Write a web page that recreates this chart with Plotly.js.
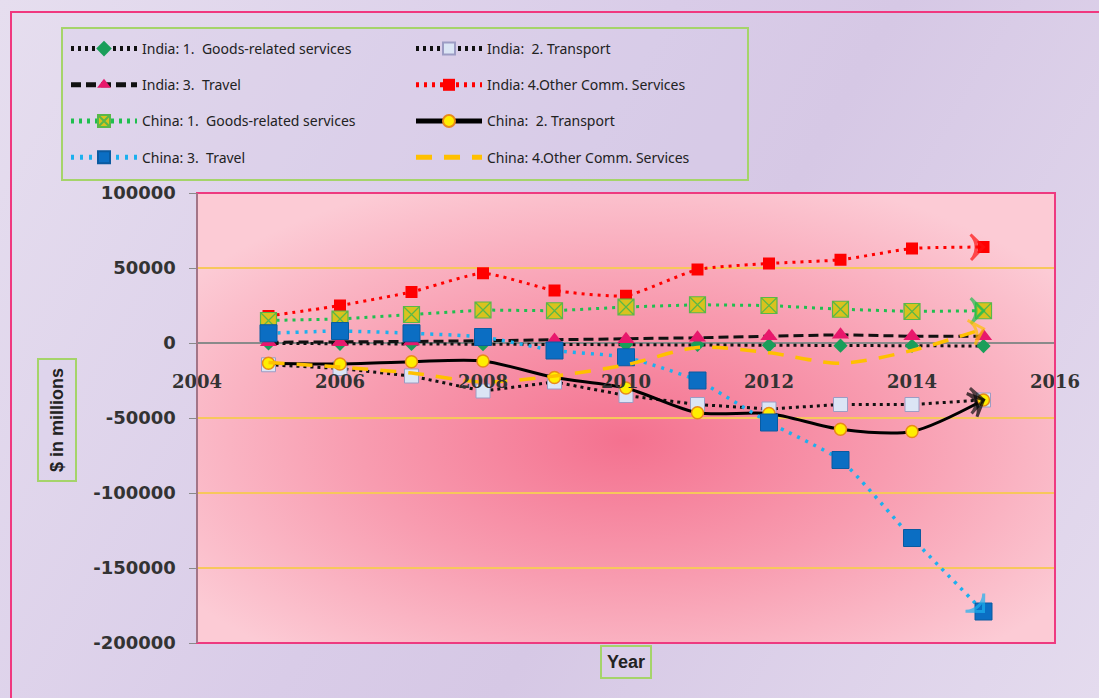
<!DOCTYPE html>
<html>
<head>
<meta charset="utf-8">
<script src="https://cdn.plot.ly/plotly-3.0.1.min.js"></script>
<style>
html,body{margin:0;padding:0;}
body{width:1099px;height:698px;background:linear-gradient(120deg,#e6deef 0%,#d9cce8 45%,#d6c8e5 60%,#e4dbee 100%);overflow:hidden;}
#chart{width:1099px;height:698px;}
</style>
</head>
<body>
<div id="chart"></div>
<script>
// ---- data ----
const years = [2005, 2006, 2007, 2008, 2009, 2010, 2011, 2012, 2013, 2014, 2015];
const indiaGoods     = [-300, -500, -600, -800, -900, -1000, -1200, -1500, -1800, -1900, -2000];
const indiaTransport = [-14500, -17000, -22000, -32000, -26000, -35000, -41000, -44000, -41000, -41000, -38000];
const indiaTravel    = [500, 500, 1000, 1500, 2000, 2500, 3500, 4500, 5500, 4500, 4500];
const indiaOther     = [18000, 25000, 34000, 46500, 35000, 31500, 49000, 53000, 55500, 63000, 64000];
const chinaGoods     = [15000, 16000, 19000, 22000, 21500, 24000, 25500, 25000, 22500, 21000, 21500];
const chinaTransport = [-13500, -14000, -12500, -12000, -23000, -30000, -46500, -47000, -57500, -59000, -38000];
const chinaTravel    = [6500, 8000, 6500, 4000, -5000, -9500, -25000, -53000, -78000, -130000, -179000];
const chinaOther     = [-13000, -16000, -20000, -26000, -22000, -14500, -3000, -6500, -13500, -5000, 9500];
const seriesNames = [
  "India: 1.  Goods-related services", "India:  2. Transport",
  "India: 3.  Travel", "India: 4.Other Comm. Services",
  "China: 1.  Goods-related services", "China:  2. Transport",
  "China: 3.  Travel", "China: 4.Other Comm. Services"
];
const yTicks = [-200000, -150000, -100000, -50000, 0, 50000, 100000];
const xTicks = [2004, 2006, 2008, 2010, 2012, 2014, 2016];

// ---- styles ----
const styles = [
  {data: indiaGoods, line:{color:'#111', width:3, dash:'3px,4px'}, marker:{symbol:'diamond', size:11, color:'#1a9e5a'}, legend:'legend', arrow:false},
  {data: indiaTransport, line:{color:'#111', width:3, dash:'3px,4px'}, marker:{symbol:'square', size:14, color:'#dbe5f5', line:{color:'#9c9cc4', width:1}}, legend:'legend2', arrow:'#111'},
  {data: indiaTravel, line:{color:'#111', width:3, dash:'10px,5px'}, marker:{symbol:'triangle-up', size:15, color:'#e8186c'}, legend:'legend', arrow:false},
  {data: indiaOther, line:{color:'#ff0000', width:3, dash:'3px,5px', shape:'spline', smoothing:0.5}, marker:{symbol:'square', size:12, color:'#ff0000'}, legend:'legend2', arrow:'#ff1010'},
  {data: chinaGoods, line:{color:'#1fbf4f', width:3, dash:'3px,5px'}, marker:{symbol:'square-x', size:16, color:'#d9c21e', line:{color:'#58b848', width:1.2}}, legend:'legend', arrow:'#1fbf4f'},
  {data: chinaTransport, line:{color:'#000', width:3, shape:'spline', smoothing:0.8}, marker:{symbol:'circle', size:12, color:'#ffee00', line:{color:'#e88a1a', width:1.5}}, legend:'legend2', arrow:'#000'},
  {data: chinaTravel, line:{color:'#1cb0ee', width:3.5, dash:'3px,6px', shape:'spline', smoothing:0.5}, marker:{symbol:'square', size:17, color:'#0b6ec3', line:{color:'#0a5aa0', width:1}}, legend:'legend', arrow:'#1cb0ee'},
  {data: chinaOther, line:{color:'#ffc000', width:3.5, dash:'16px,12px', shape:'spline', smoothing:0.8}, marker:{size:6, color:'#ffc000'}, legend:'legend2', arrow:'#ffc000', nomarker:true}
];

const traces = [];
styles.forEach((s, i) => {
  traces.push({
    x: years, y: s.data, name: seriesNames[i], type:'scatter',
    mode: s.nomarker ? 'lines' : 'lines+markers',
    line: s.line, marker: s.marker,
    legend: s.legend, legendgroup: 'g' + i, showlegend: true, hoverinfo:'x+y+name'
  });
});
styles.forEach((s, i) => {
  if (!s.arrow) return;
  traces.push({
    x: years.slice(-2), y: s.data.slice(-2), type:'scatter', mode:'markers',
    showlegend:false, hoverinfo:'skip',
    marker:{symbol:'arrow-wide-open', size:[0, 18], angleref:'previous', color:s.arrow, line:{color:s.arrow, width:3}}
  });
});

// plot area: x 197..1055, y 193..643
const W = 1099, H = 698, L = 197, R = 44, T = 193, B = 55;
const pw = W - L - R, ph = H - T - B;
const px = v => (v - L) / pw;
const py = v => (H - B - v) / ph;

const grad = '<svg xmlns="http://www.w3.org/2000/svg" width="858" height="450" preserveAspectRatio="none" viewBox="0 0 858 450">' +
  '<defs><radialGradient id="g" cx="0.5" cy="0.55" r="0.62" fx="0.5" fy="0.55">' +
  '<stop offset="0" stop-color="#f4718f"/><stop offset="0.5" stop-color="#f89cb0"/><stop offset="1" stop-color="#fccbd5"/>' +
  '</radialGradient></defs><rect width="858" height="450" fill="url(#g)"/></svg>';

const legendFont = {family:'"Noto Sans", sans-serif', size:14, color:'#222'};
const layout = {
  width: W, height: H,
  margin: {l:L, r:R, t:T, b:B, pad:0},
  paper_bgcolor: 'rgba(0,0,0,0)', plot_bgcolor: 'rgba(0,0,0,0)',
  showlegend: true,
  images: [{source: 'data:image/svg+xml;charset=utf-8,' + encodeURIComponent(grad),
    xref:'paper', yref:'paper', x:0, y:1, sizex:1, sizey:1, sizing:'stretch', layer:'below', xanchor:'left', yanchor:'top'}],
  xaxis: {
    range:[2004, 2016], tickvals: xTicks, ticktext: xTicks.map(String),
    anchor:'free', position: 2/3, showgrid:false, zeroline:false, showline:false,
    ticks:'', ticklabelstandoff: 26,
    tickfont:{family:'"DejaVu Serif", serif', size:18, color:'#333', weight:'bold'}
  },
  yaxis: {
    range:[-200000, 100000], tickvals: yTicks, ticktext: yTicks.map(String),
    showgrid:true, gridcolor:'#f7c75c', gridwidth:1.5,
    zeroline:true, zerolinecolor:'#8a8a8a', zerolinewidth:1.5,
    showline:true, linecolor:'#8a8a8a', linewidth:1.5,
    ticks:'outside', ticklen:7, tickcolor:'#8a8a8a', ticklabelstandoff: 9,
    tickfont:{family:'"DejaVu Sans", sans-serif', size:18, color:'#333', weight:'bold'}
  },
  legend: {x: px(66), y: py(33), xanchor:'left', yanchor:'top', bgcolor:'rgba(0,0,0,0)', borderwidth:0,
    font: legendFont, itemwidth:66, tracegroupgap:15, orientation:'v', itemsizing:'constant'},
  legend2: {x: px(411), y: py(33), xanchor:'left', yanchor:'top', bgcolor:'rgba(0,0,0,0)', borderwidth:0,
    font: legendFont, itemwidth:66, tracegroupgap:15, orientation:'v', itemsizing:'constant'},
  shapes: [
    {type:'rect', xref:'paper', yref:'paper', x0:px(11), x1:px(1110), y0:py(712), y1:py(12), line:{color:'#f0387f', width:2}, layer:'below'},
    {type:'rect', xref:'paper', yref:'paper', x0:px(62), x1:px(748), y0:py(180), y1:py(28), line:{color:'#a5d46a', width:2}, fillcolor:'rgba(214,202,232,0.35)', layer:'below'},
    {type:'rect', xref:'paper', yref:'paper', x0:0, x1:1, y0:0, y1:1, line:{color:'#ee3a80', width:2}, layer:'above'},
    {type:'line', xref:'paper', yref:'paper', x0:0, x1:0, y0:0, y1:1, line:{color:'#8a8a8a', width:1.5}, layer:'above'}
  ],
  annotations: [
    {text:'<b>$ in millions</b>', xref:'paper', yref:'paper', x:px(57), y:py(420), showarrow:false, textangle:-90,
      font:{family:'"Liberation Sans", sans-serif', size:18, color:'#222'}, bordercolor:'#a5d46a', borderwidth:2, borderpad:8, bgcolor:'rgba(220,210,236,0.5)', xanchor:'center', yanchor:'middle'},
    {text:'<b>Year</b>', xref:'paper', yref:'paper', x:px(626), y:py(662), showarrow:false,
      font:{family:'"Liberation Sans", sans-serif', size:18, color:'#222'}, bordercolor:'#a5d46a', borderwidth:2, borderpad:5, bgcolor:'rgba(220,210,236,0.5)', xanchor:'center', yanchor:'middle'}
  ]
};

Plotly.newPlot('chart', traces, layout, {displayModeBar:false, staticPlot:true});
</script>
</body>
</html>
